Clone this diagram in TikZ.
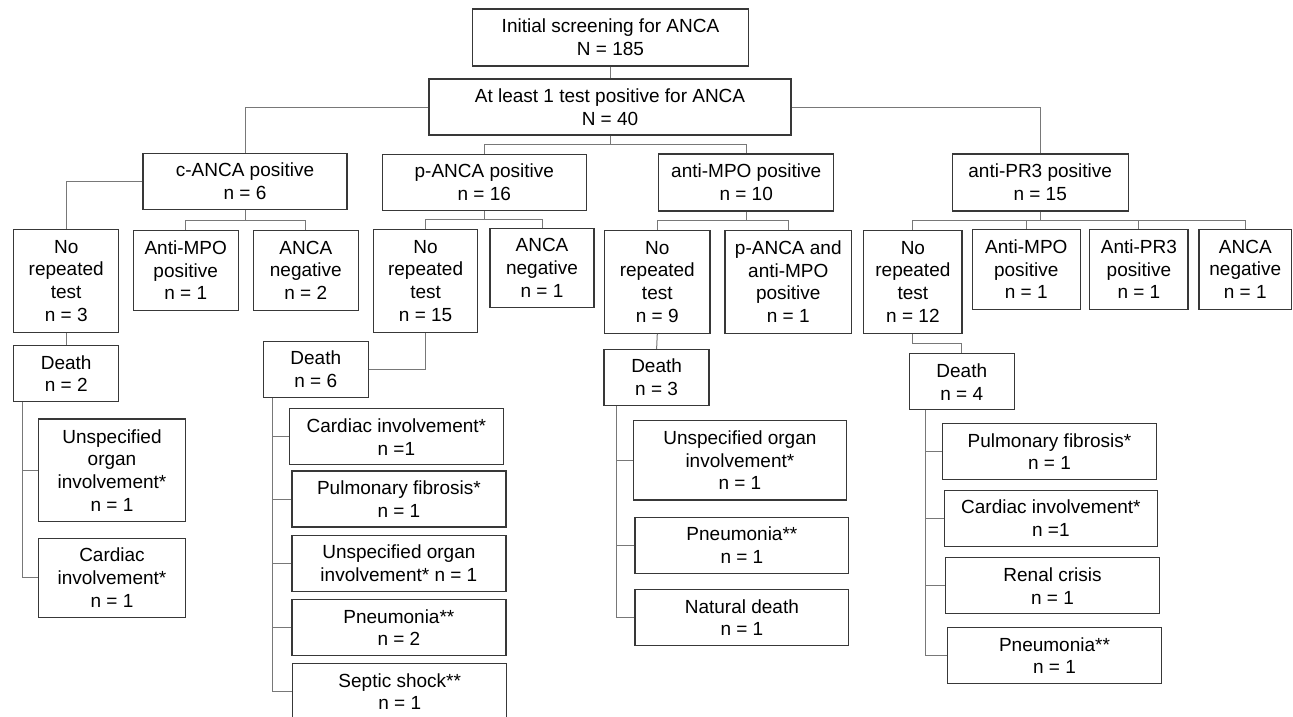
\documentclass[tikz,border=0pt]{standalone}
\usepackage{fontspec}
\setmainfont{Liberation Sans}
\definecolor{boxline}{gray}{0.22}
\definecolor{linkline}{gray}{0.47}

\begin{document}
\begin{tikzpicture}[x=1pt,y=-1pt, node font=\fontsize{19}{22.7}\selectfont,
  box/.style={draw=boxline, line width=1.3pt, align=center, inner sep=0pt},
  wh/.style 2 args={minimum width=#1, minimum height=#2},
  link/.style={draw=linkline, line width=1pt}]
  \useasboundingbox (0,0) rectangle (1293,717);
  % top of the tree
  \node[box, wh={276}{57}] (screen) at (610.5,37.5) {Initial screening for ANCA\\N = 185};
  \node[box, wh={362}{56}] (atleast) at (610,107) {At least 1 test positive for ANCA\\N = 40};
  \node[box, wh={204}{56}] (cpos) at (245,181.5) {c-ANCA positive\\n = 6};
  \node[box, wh={204}{56}] (ppos) at (484.3,182.5) {p-ANCA positive\\n = 16};
  \node[box, wh={175}{57}] (mpopos) at (746.2,182.5) {anti-MPO positive\\n = 10};
  \node[box, wh={176}{57}] (pr3pos) at (1040.2,182.5) {anti-PR3 positive\\n = 15};
  % second tests
  \node[box, wh={105}{103}] (cnorep) at (66.2,280.8) {No\\repeated\\test\\n = 3};
  \node[box, wh={105}{80}] (cmpo) at (185.7,270.2) {Anti-MPO\\positive\\n = 1};
  \node[box, wh={105}{80}] (cneg) at (305.8,270.2) {ANCA\\negative\\n = 2};
  \node[box, wh={104}{103}] (pnorep) at (425.6,280.8) {No\\repeated\\test\\n = 15};
  \node[box, wh={104}{79}] (pneg) at (542,267.8) {ANCA\\negative\\n = 1};
  \node[box, wh={105.5}{103}] (mnorep) at (657.3,281.7) {No\\repeated\\test\\n = 9};
  \node[box, wh={126.6}{103}] (mboth) at (788.3,281.7) {p-ANCA and\\anti-MPO\\positive\\n = 1};
  \node[box, wh={98.3}{103}] (rnorep) at (912.9,281.8) {No\\repeated\\test\\n = 12};
  \node[box, wh={107.8}{80}] (rmpo) at (1026.3,269.3) {Anti-MPO\\positive\\n = 1};
  \node[box, wh={98.2}{80}] (rpr3) at (1138.9,269.3) {Anti-PR3\\positive\\n = 1};
  \node[box, wh={92.5}{80}] (rneg) at (1245.3,269.3) {ANCA\\negative\\n = 1};
  % deaths
  \node[box, wh={105}{56}] (cdeath) at (66.2,373.7) {Death\\n = 2};
  \node[box, wh={105}{56}] (pdeath) at (315.8,369.5) {Death\\n = 6};
  \node[box, wh={105}{56}] (mdeath) at (656.6,377.5) {Death\\n = 3};
  \node[box, wh={105}{56}] (rdeath) at (961.8,381.8) {Death\\n = 4};
  % causes of death
  \node[box, wh={146.7}{102.7}] (c1) at (112,470.3) {Unspecified\\organ\\involvement*\\n = 1};
  \node[box, wh={146.7}{79}] (c2) at (112,577.8) {Cardiac\\involvement*\\n = 1};
  \node[box, wh={214}{56}] (p1) at (396.4,436.8) {Cardiac involvement*\\n =1};
  \node[box, wh={214}{56}] (p2) at (398.9,499) {Pulmonary fibrosis*\\n = 1};
  \node[box, wh={214}{56}] (p3) at (398.9,563.3) {Unspecified organ\\involvement* n = 1};
  \node[box, wh={214}{56}] (p4) at (398.9,627.5) {Pneumonia**\\n = 2};
  \node[box, wh={214}{56}] (p5) at (399.7,691.5) {Septic shock**\\n = 1};
  \node[box, wh={213.3}{79.7}] (m1) at (739.9,460.2) {Unspecified organ\\involvement*\\n = 1};
  \node[box, wh={213.8}{56}] (m2) at (741.9,545.2) {Pneumonia**\\n = 1};
  \node[box, wh={213.8}{56}] (m3) at (741.9,617.5) {Natural death\\n = 1};
  \node[box, wh={214}{56}] (r1) at (1049.5,451.7) {Pulmonary fibrosis*\\n = 1};
  \node[box, wh={213}{56}] (r2) at (1050.9,518.2) {Cardiac involvement*\\n =1};
  \node[box, wh={214}{56}] (r3) at (1052.5,585.8) {Renal crisis\\n = 1};
  \node[box, wh={214}{56}] (r4) at (1054.5,655.7) {Pneumonia**\\n = 1};

  % connectors
  \draw[link] (screen.south) -- (screen.south |- atleast.north);
  \draw[link] (atleast.west) -| (cpos.north);
  \draw[link] (atleast.east) -| (pr3pos.north);
  \draw[link] (atleast.south) -- ++(0,9.3) coordinate (aj);
  \draw[link] (ppos.north) |- (aj) -| (mpopos.north);

  \draw[link] (cpos.west) -| (cnorep.north);
  \draw[link] (cpos.south) -- ++(0,10.5) coordinate (cj);
  \draw[link] (cmpo.north) |- (cj) -| (cneg.north);
  \draw[link] (ppos.south) -- ++(0,8.8) coordinate (pj);
  \draw[link] (pnorep.north) |- (pj) -| (pneg.north);
  \draw[link] (mpopos.south) -- ++(0,9) coordinate (mj);
  \draw[link] (mnorep.north) |- (mj) -| (mboth.north);
  \draw[link] (pr3pos.south) -- ++(0,9) coordinate (rj);
  \draw[link] (rnorep.north) |- (rj) -| (rneg.north);
  \draw[link] (rj -| rmpo.north) -- (rmpo.north);
  \draw[link] (rj -| rpr3.north) -- (rpr3.north);

  \draw[link] (cnorep.south) -- (cdeath.north);
  \draw[link] (pnorep.south) |- (pdeath.east);
  \draw[link] (mnorep.south) -- (mdeath.north);
  \draw[link] (rnorep.south) -- ++(0,10) -| (rdeath.north);

  \foreach \k in {c1,c2}
    \draw[link] ([xshift=9.5]cdeath.south west) |- (\k.west);
  \foreach \k in {p1,p2,p3,p4,p5}
    \draw[link] ([xshift=9.5]pdeath.south west) |- (\k.west);
  \foreach \k in {m1,m2,m3}
    \draw[link] ([xshift=13.2]mdeath.south west) |- (\k.west);
  \foreach \k in {r1,r2,r3,r4}
    \draw[link] ([xshift=16.4]rdeath.south west) |- (\k.west);
\end{tikzpicture}
\end{document}
